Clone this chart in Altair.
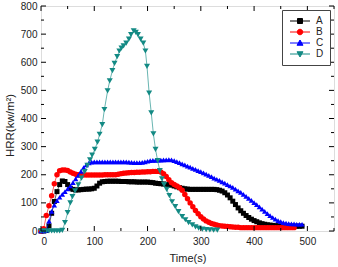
import altair as alt
import pandas as pd

# ---------------- data ----------------
series_names = ["A", "B", "C", "D"]
series_colors = ["#000000", "#ff0000", "#0000ff", "#138a84"]
series_shapes = ["square", "circle", "triangle-up", "triangle-down"]

time_a = list(range(0, 495, 5))
hrr_a = [0, 0, 2, 18, 63, 105, 140, 165, 178, 176,
         165, 152, 148, 146, 146, 147, 148, 149, 149, 150,
         152, 160, 170, 175, 176, 177, 177, 177, 177, 177,
         176, 176, 176, 175, 175, 175, 174, 174, 174, 174,
         174, 173, 172, 170, 169, 168, 167, 166, 165, 163,
         160, 157, 154, 152, 150, 149, 148, 148, 148, 148,
         148, 148, 148, 148, 148, 148, 147, 145, 142, 136,
         128, 118, 106, 94, 82, 72, 63, 55, 48, 42,
         37, 33, 29, 26, 24, 22, 21, 20, 19, 18,
         18, 17, 17, 17, 17, 17, 17, 17, 17]

time_b = list(range(0, 480, 5))
hrr_b = [0, 8, 55, 90, 125, 168, 200, 214, 217, 217,
         215, 210, 205, 202, 200, 199, 199, 199, 199, 199,
         199, 199, 199, 199, 200, 200, 200, 200, 200, 202,
         204, 205, 206, 207, 208, 208, 209, 209, 210, 210,
         211, 211, 212, 212, 212, 210, 204, 194, 182, 172,
         165, 160, 154, 145, 130, 115, 100, 86, 73, 61,
         51, 43, 36, 31, 27, 24, 21, 19, 18, 17,
         16, 15, 14, 13, 13, 12, 12, 12, 12, 12,
         12, 12, 12, 12, 12, 12, 12, 12, 12, 12,
         12, 12, 12, 12, 12, 12]

time_c = list(range(0, 495, 5))
hrr_c = [0, 0, 2, 35, 70, 92, 108, 120, 130, 140,
         150, 160, 172, 185, 198, 212, 225, 235, 242, 245,
         246, 246, 246, 246, 246, 246, 246, 246, 246, 246,
         246, 246, 246, 245, 244, 243, 243, 243, 244, 246,
         248, 250, 251, 251, 252, 252, 253, 253, 254, 253,
         250, 247, 243, 239, 235, 231, 227, 223, 219, 215,
         211, 207, 202, 198, 193, 188, 184, 180, 175, 170,
         165, 160, 155, 149, 143, 137, 130, 123, 116, 109,
         101, 94, 86, 78, 70, 62, 55, 48, 42, 37,
         33, 30, 28, 26, 25, 25, 24, 24, 24]

time_d = [0, 5, 10, 15, 20, 25, 30, 35, 40, 45, 50, 55, 59, 64, 70, 76, 82, 87,
          92, 96, 101, 106, 110, 115, 119, 125, 129, 134, 138, 143, 147, 151,
          155, 160, 165, 169, 174, 178, 182, 187, 192, 196, 199, 203, 207, 211,
          215, 219, 223, 227, 231, 236, 241, 246, 252, 258, 265, 271, 277, 284,
          290, 296, 303, 310, 317, 324, 331]
hrr_d = [0, 0, 0, 0, 0, 0, 0, 0, 2, 30, 65, 100, 122, 143, 164, 188, 211, 233,
         253, 270, 290, 316, 344, 378, 432, 498, 534, 570, 596, 620, 640, 650,
         658, 668, 682, 698, 712, 706, 698, 682, 668, 640, 585, 490, 420, 345,
         290, 250, 215, 185, 165, 148, 126, 104, 87, 69, 51, 40, 30, 22,
         15, 10, 7, 5, 4, 3, 3]

x_major = [0, 100, 200, 300, 400, 500]
x_minor = [50, 150, 250, 350, 450, 550]
y_major = [0, 100, 200, 300, 400, 500, 600, 700, 800]
y_minor = [50, 150, 250, 350, 450, 550, 650, 750]

# ---------------- chart ----------------
W, H = 293, 225
FONT = "Liberation Sans"
TXT = "#222222"

xs = alt.Scale(domain=[0, 550], nice=False, zero=False)
ys = alt.Scale(domain=[0, 800], nice=False)

x_axis = alt.Axis(values=x_major, ticks=False, domain=False, grid=False,
                  labelFontSize=10, labelPadding=5, labelColor=TXT, labelFont=FONT,
                  title="Time(s)", titleFontSize=11, titleFontWeight="normal",
                  titleColor=TXT, titleFont=FONT, titlePadding=6)
y_axis = alt.Axis(values=y_major, ticks=False, domain=False, grid=False,
                  labelFontSize=10, labelPadding=4, labelColor=TXT, labelFont=FONT,
                  title="HRR(kw/m²)", titleFontSize=11.5, titleFontWeight="normal",
                  titleColor=TXT, titleFont=FONT, titlePadding=5, titleY=119)

X = alt.X("t:Q", scale=xs, axis=x_axis)
Y = alt.Y("v:Q", scale=ys, axis=y_axis)

datasets = [(time_a, hrr_a, 25), (time_b, hrr_b, 30), (time_c, hrr_c, 30), (time_d, hrr_d, 36)]

layers = []
for (tt, vv, msize), col, shp in zip(datasets, series_colors, series_shapes):
    df = pd.DataFrame({"t": tt, "v": vv})
    base = alt.Chart(df)
    layers.append(base.mark_line(color=col, strokeWidth=0.8, opacity=0.8).encode(x=X, y=Y))
    layers.append(base.mark_point(shape=shp, filled=True, size=msize, color=col,
                                  opacity=1, strokeWidth=0).encode(x=X, y=Y))

# inward ticks on all four sides
def xticks(vals, ln):
    d = alt.Chart(pd.DataFrame({"t": vals}))
    return [
        d.mark_rule(color="black", strokeWidth=1).encode(x=X, y=alt.value(H), y2=alt.value(H - ln)),
        d.mark_rule(color="black", strokeWidth=1).encode(x=X, y=alt.value(0), y2=alt.value(ln)),
    ]

def yticks(vals, ln):
    d = alt.Chart(pd.DataFrame({"v": vals}))
    return [
        d.mark_rule(color="black", strokeWidth=1).encode(y=Y, x=alt.value(0), x2=alt.value(ln)),
        d.mark_rule(color="black", strokeWidth=1).encode(y=Y, x=alt.value(W), x2=alt.value(W - ln)),
    ]

layers += xticks(x_major, 5) + xticks(x_minor, 3) + yticks(y_major, 5) + yticks(y_minor, 3)

# legend: line + marker symbols
legend_paths = [
    "M-4,0H4M-1,-1H1V1H-1Z",
    "M-4,0H4M-1.1,0A1.1,1.1,0,1,0,1.1,0A1.1,1.1,0,1,0,-1.1,0Z",
    "M-4,0H4M0,-1.2L1.2,0.9L-1.2,0.9Z",
    "M-4,0H4M0,1.2L1.2,-0.9L-1.2,-0.9Z",
]
leg = alt.Legend(title=None, orient="top-right", offset=4, symbolSize=25,
                 symbolStrokeWidth=1, symbolOffset=7, labelOffset=11,
                 labelFontSize=10, labelFont=FONT, labelColor=TXT, rowPadding=1,
                 padding=6, strokeColor="#444444", fillColor="white")
legend_layer = alt.Chart(pd.DataFrame({"series": series_names})).transform_filter(
    "false").mark_point(filled=True, size=25, opacity=1, strokeWidth=1).encode(
    color=alt.Color("series:N", scale=alt.Scale(domain=series_names, range=series_colors), legend=leg),
    stroke=alt.Stroke("series:N", scale=alt.Scale(domain=series_names, range=series_colors), legend=leg),
    shape=alt.Shape("series:N", scale=alt.Scale(domain=series_names, range=legend_paths), legend=leg),
)
layers.append(legend_layer)

chart = alt.layer(*layers).properties(
    width=W, height=H,
    autosize=alt.AutoSizeParams(type="none"),
    padding={"left": 41, "top": 6, "right": 4, "bottom": 36},
).configure_view(stroke="black", strokeWidth=1).configure(background="white")

chart.save("out.html", embed_options={"renderer": "svg", "actions": False})
